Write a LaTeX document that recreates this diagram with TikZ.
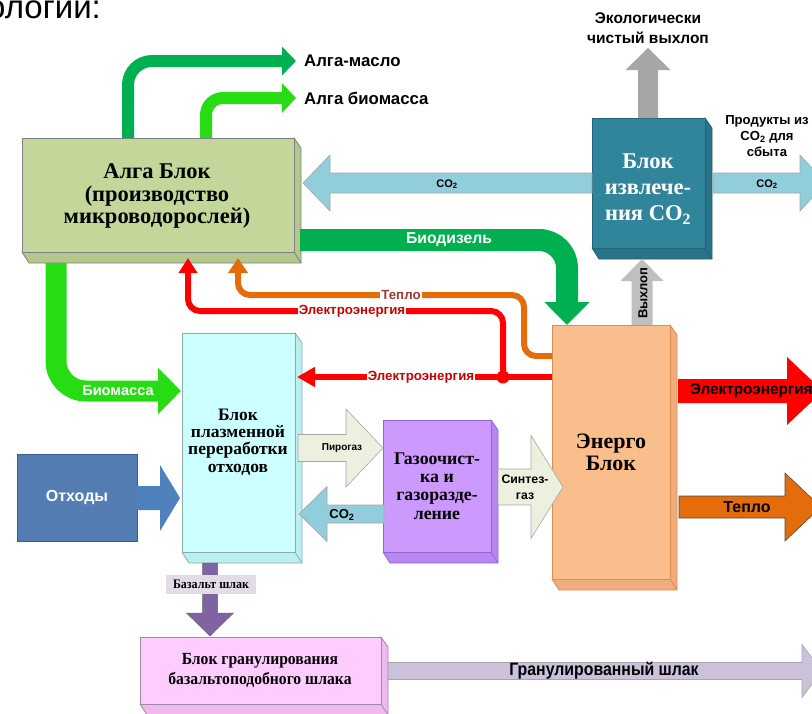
\documentclass[tikz,border=0pt]{standalone}
\usepackage{fontspec}
\setmainfont{Liberation Serif}
\setsansfont{Liberation Sans}
\newfontfamily\condserif[FakeStretch=0.92]{Liberation Serif}
\newfontfamily\condsans[FakeStretch=0.88]{Liberation Sans}
\usetikzlibrary{arrows.meta}
\definecolor{algaF}{RGB}{196,215,155}\definecolor{algaS}{RGB}{180,200,140}\definecolor{algaB}{RGB}{128,128,128}
\definecolor{co2F}{RGB}{49,133,155}\definecolor{co2S}{RGB}{40,115,135}\definecolor{co2B}{RGB}{35,100,120}
\definecolor{enF}{RGB}{250,190,140}\definecolor{enS}{RGB}{240,172,122}\definecolor{enB}{RGB}{220,140,80}
\definecolor{plF}{RGB}{204,255,255}\definecolor{plS}{RGB}{188,240,240}\definecolor{plB}{RGB}{140,170,170}
\definecolor{gasF}{RGB}{204,153,255}\definecolor{gasS}{RGB}{185,135,240}\definecolor{gasB}{RGB}{150,100,210}
\definecolor{pkF}{RGB}{255,204,255}\definecolor{pkS}{RGB}{240,185,240}\definecolor{pkB}{RGB}{160,140,160}
\definecolor{otF}{RGB}{84,125,180}\definecolor{otB}{RGB}{60,90,140}
\definecolor{dgreen}{RGB}{0,176,80}\definecolor{bgreen}{RGB}{40,220,20}
\definecolor{lblue}{RGB}{146,205,220}\definecolor{agray}{RGB}{166,166,166}\definecolor{vgray}{RGB}{191,191,191}
\definecolor{ored}{RGB}{255,0,0}\definecolor{oorange}{RGB}{228,108,10}\definecolor{beige}{RGB}{235,241,222}
\definecolor{basalt}{RGB}{128,100,162}\definecolor{lav}{RGB}{204,193,218}\definecolor{blueArr}{RGB}{79,129,189}
\definecolor{labRed}{RGB}{200,0,0}\definecolor{labBrown}{RGB}{150,60,50}\definecolor{basLab}{RGB}{225,220,232}
\newcommand\fs[2]{\fontsize{#1}{#2}\selectfont}
% horizontal block arrow: style, x tail, x tip, y, half shaft, half head, signed head length
\newcommand\harr[7]{\path[#1] (#2,{#4-(#5)}) -- ({#3-(#7)},{#4-(#5)}) -- ({#3-(#7)},{#4-(#6)}) -- (#3,#4) -- ({#3-(#7)},{#4+(#6)}) -- ({#3-(#7)},{#4+(#5)}) -- (#2,{#4+(#5)}) -- cycle;}
% vertical block arrow: style, y tail, y tip, x, half shaft, half head, signed head length
\newcommand\varr[7]{\path[#1] ({#4-(#5)},#2) -- ({#4-(#5)},{#3-(#7)}) -- ({#4-(#6)},{#3-(#7)}) -- (#4,#3) -- ({#4+(#6)},{#3-(#7)}) -- ({#4+(#5)},{#3-(#7)}) -- ({#4+(#5)},#2) -- cycle;}
% 3D block: name, x0, y0, x1, y1, front, side, border
\newcommand\boxthreed[8]{%
  \fill[#7,draw=#8,line width=0.8pt] (#4,#3) -- ({#4+7},{#3+10}) -- ({#4+7},{#5+11}) -- ({#2+7},{#5+11}) -- (#2,#5) -- cycle;
  \draw[#8,line width=0.8pt] (#4,#5) -- ({#4+7},{#5+11});
  \node[draw=#8,fill=#6,line width=0.8pt,inner sep=0pt,outer sep=0pt,minimum width={#4-#2},minimum height={#5-#3}] (#1) at ({(#2+#4)/2},{(#3+#5)/2}) {};}
\tikzset{
  blocktext/.style={align=center,font=\bfseries},
  wlab/.style={text=white,font=\sffamily\bfseries},
  linelab/.style={fill=white,inner sep=1pt,font=\sffamily\bfseries\fs{13.3}{15}},
}
\begin{document}
\begin{tikzpicture}[x=1pt,y=-1pt]
\useasboundingbox (0,0) rectangle (812,713);
\clip (0,0) rectangle (812,713);

\node[anchor=base west,inner sep=0pt,font=\sffamily\fs{33}{36}] (title) at (-13,18) {ологии:};

% top green arrows
\coordinate (om0) at (128,140); \coordinate (om1) at (296,61);
\coordinate (bm0) at (206,140); \coordinate (bm1) at (296,98);
\draw[dgreen,line width=12pt,rounded corners=24pt,-{Triangle[width=28pt,length=14pt]}] (om0) |- (om1);
\draw[bgreen,line width=12pt,rounded corners=17pt,-{Triangle[width=29pt,length=14pt]}] (bm0) |- (bm1);
\node[anchor=west,inner sep=0pt,font=\sffamily\bfseries\fs{16.8}{18}] (lom) at (304,61) {Алга-масло};
\node[anchor=west,inner sep=0pt,font=\sffamily\bfseries\fs{16.8}{18}] (lbm) at (304,98) {Алга биомасса};

% biomass arrow
\coordinate (bio0) at (56,250); \coordinate (bio1) at (181,391);
\draw[bgreen,line width=21pt,rounded corners=30pt,-{Triangle[width=45pt,length=23pt]}] (bio0) |- (bio1);
\node[wlab,font=\sffamily\bfseries\fs{14.6}{16}] (lbio) at (118,391) {Биомасса};

% blocks
\boxthreed{alga}{22}{138}{294}{252}{algaF}{algaS}{algaB}
\node[blocktext,font=\bfseries\fs{22.5}{22.5}] (algat) at (157,196) {Алга Блок\\(производство\\микроводорослей)};
\boxthreed{co2blk}{592}{118}{705}{248}{co2F}{co2S}{co2B}
\node[blocktext,text=white,font=\bfseries\fs{22.5}{26}] (co2t) at (648,189) {Блок\\извлече-\\ния CO\textsubscript{2}};
\boxthreed{energy}{552}{325}{670}{579}{enF}{enS}{enB}
\node[blocktext,font=\bfseries\fs{22}{22}] (ent) at (611,452) {Энерго\\Блок};
\boxthreed{plasma}{182}{333}{295}{552}{plF}{plS}{plB}
\node[blocktext,font=\bfseries\fs{17.5}{17.2}] (plt) at (238,442) {Блок\\плазменной\\переработки\\отходов};
\boxthreed{gas}{383}{420}{491}{552}{gasF}{gasS}{gasB}
\node[blocktext,font=\bfseries\fs{17.8}{18.3}] (gast) at (437,486) {Газоочист-\\ка и\\газоразде-\\ление};
\boxthreed{gran}{140}{637}{381}{704}{pkF}{pkS}{pkB}
\node[blocktext,font=\condserif\bfseries\fs{17}{20}] (grant) at (260,670) {Блок гранулирования\\базальтоподобного шлака};
\node[draw=otB,fill=otF,line width=0.8pt,minimum width=120pt,minimum height=87pt,inner sep=0pt] (otx) at (77,497.5) {};
\node[wlab,font=\sffamily\bfseries\fs{16}{17}] (otxt) at (77,497) {Отходы};

% biodiesel
\coordinate (bd0) at (300,240); \coordinate (bd1) at (567,325);
\draw[dgreen,line width=22pt,rounded corners=28pt,-{Triangle[width=44pt,length=23pt]}] (bd0) -| (bd1);
\node[wlab,font=\sffamily\bfseries\fs{15.7}{17}] (lbd) at (449,240) {Биодизель};

% CO2 arrows top
\harr{fill=lblue,draw=agray,line width=0.6pt}{592}{303}{183}{10}{28}{-27}
\node[font=\sffamily\bfseries\fs{11}{12}] (lco2a) at (447,184) {CO\textsubscript{2}};
\harr{fill=lblue,draw=agray,line width=0.6pt}{713}{826}{183}{10}{28}{26}
\node[font=\sffamily\bfseries\fs{11}{12}] (lco2b) at (767,184) {CO\textsubscript{2}};
\node[align=center,font=\sffamily\bfseries\fs{13.1}{16}] (prod) at (767,136) {Продукты из\\CO\textsubscript{2} для\\сбыта};

% exhaust up
\varr{fill=agray}{118}{48}{648}{10}{22.5}{-22}
\node[align=center,font=\sffamily\bfseries\fs{15.5}{19.5}] (eco) at (648,28) {Экологически\\чистый выхлоп};
\varr{fill=vgray}{325}{259}{642}{10.5}{21.5}{-22}
\node[rotate=90,font=\sffamily\bfseries\fs{13}{14}] (vyh) at (643,293) {Выхлоп};

% heat and electricity lines
\coordinate (h0) at (552,356); \coordinate (h1) at (524,295); \coordinate (h2) at (238,258);
\draw[oorange,line width=6pt,rounded corners=12pt,-{Triangle[width=19pt,length=15pt]}] (h0) -| (h1) -| (h2);
\node[linelab,text=labBrown] (lh) at (401,295) {Тепло};
\coordinate (e0) at (552,377); \coordinate (ej) at (503,377); \coordinate (e1) at (188,258);
\draw[ored,line width=6.5pt,-{Triangle[width=19pt,length=18pt]}] (e0) -- (297,377);
\draw[ored,line width=6pt,rounded corners=12pt,-{Triangle[width=18pt,length=15pt]}] (ej) |- (350,311) -| (e1);
\fill[ored] (ej) circle (6.5pt);
\node[linelab,text=labRed] (le1) at (352,311) {Электроэнергия};
\node[linelab,text=labRed] (le2) at (421,377) {Электроэнергия};

% right outputs
\harr{fill=ored}{678}{823}{391}{12}{34}{36}
\node[anchor=west,inner sep=0pt,font=\sffamily\bfseries\fs{15.3}{16}] (lel) at (690,391) {Электроэнергия};
\harr{fill=oorange,draw=black!70,line width=0.6pt}{679}{821}{507}{11}{34}{36}
\node[font=\sffamily\bfseries\fs{16}{18}] (lheat) at (747,507) {Тепло};

% middle arrows
\harr{fill=beige,draw=agray,line width=0.6pt}{298}{383}{448}{13.5}{39}{37}
\node[font=\sffamily\bfseries\fs{10}{12}] (lpyr) at (342,448) {Пирогаз};
\harr{fill=lblue,draw=agray,line width=0.6pt}{384}{299}{514}{9}{27.5}{-28}
\node[font=\sffamily\bfseries\fs{13}{14}] (lco2c) at (342,515) {CO\textsubscript{2}};
\harr{fill=beige,draw=agray,line width=0.6pt}{498}{563}{487}{18}{51.5}{32}
\node[align=center,font=\sffamily\bfseries\fs{12.3}{16}] (lsyn) at (525,487) {Синтез-\\газ};
\harr{fill=blueArr}{137}{180}{498}{12}{33}{20}

% basalt
\varr{fill=basalt,draw=black!60,line width=0.5pt}{563}{636}{210}{7.5}{23.5}{23}
\node[fill=basLab,minimum width=90pt,minimum height=19pt,inner sep=0pt,font=\condserif\bfseries\fs{13}{14}] (lbas) at (211,584) {Базальт шлак};
\harr{fill=lav,draw=agray,line width=0.6pt}{388}{822}{671}{8.5}{26.5}{20}
\node[font=\condsans\bfseries\fs{18}{20}] (lgran) at (604,671) {Гранулированный шлак};
\end{tikzpicture}
\end{document}
